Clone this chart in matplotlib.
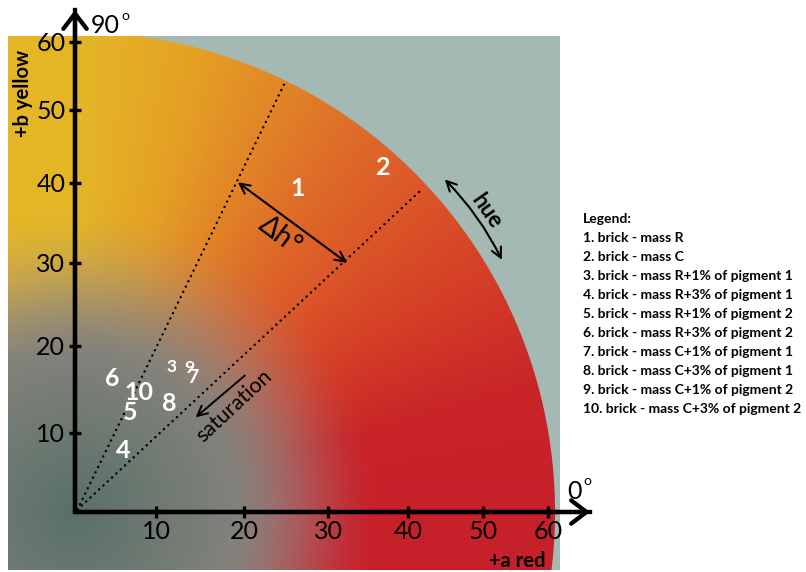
import numpy as np
import matplotlib
matplotlib.use("Agg")
import matplotlib.pyplot as plt

plt.rcParams["font.family"] = ["Lato", "DejaVu Sans"]

# samples in the a*b* plane
sample_ids = ["1", "2", "3", "4", "5", "6", "7", "8", "9", "10"]
sample_a = [26.4, 36.9, 11.8, 6.0, 6.8, 4.6, 14.2, 11.5, 13.8, 7.9]
sample_b = [39.5, 42.3, 17.7, 8.0, 12.5, 16.4, 16.6, 13.6, 17.6, 14.8]
sample_names = [
    "brick - mass R",
    "brick - mass C",
    "brick - mass R+1% of pigment 1",
    "brick - mass R+3% of pigment 1",
    "brick - mass R+1% of pigment 2",
    "brick - mass R+3% of pigment 2",
    "brick - mass C+1% of pigment 1",
    "brick - mass C+3% of pigment 1",
    "brick - mass C+1% of pigment 2",
    "brick - mass C+3% of pigment 2",
]
tick_values = [10, 20, 30, 40, 50, 60]

# dotted hue lines (outer ends) and the arrows between/along them
hue_line_a = [24.9, 41.9]
hue_line_b = [54.1, 39.25]
dh_a = [19.3, 32.4]
dh_b = [40.1, 30.0]
hue_arc_a = [44.9, 52.9]
hue_arc_b = [40.5, 30.4]
sat_a = [20.1, 14.5]
sat_b = [16.6, 11.8]

# styles / layout
label_sizes = [18, 18, 12.5, 18, 18, 18, 14, 18, 12.5, 18]
# the hand drawn axes are unevenly spaced: pixel offset of each tick from the origin
axis_x_px = [0, 81, 169, 253, 333, 408, 473]
axis_y_px = [0, 79, 166, 249, 329, 402, 470]
hue_deg = [0, 15, 30, 45, 55, 65, 75, 90]
hue_rgb = np.array([
    (198, 32, 42), (200, 36, 40), (212, 62, 38), (220, 90, 40),
    (222, 110, 40), (225, 135, 38), (228, 160, 36), (228, 182, 38),
]) / 255.0
bg_rgb = np.array((164, 184, 180)) / 255.0
gray0 = np.array((88, 112, 104)) / 255.0
gray1 = np.array((155, 140, 134)) / 255.0


def make_scale(ticks_px, slope=7.8):
    vals = np.array([0] + tick_values, float)
    px = np.array(ticks_px, float)

    def fwd(v):
        v = np.asarray(v, float)
        out = np.interp(v, vals, px)
        out = np.where(v < vals[0], px[0] + (v - vals[0]) * slope, out)
        out = np.where(v > vals[-1], px[-1] + (v - vals[-1]) * slope, out)
        return out

    def inv(p):
        p = np.asarray(p, float)
        out = np.interp(p, px, vals)
        out = np.where(p < px[0], vals[0] + (p - px[0]) / slope, out)
        out = np.where(p > px[-1], vals[-1] + (p - px[-1]) / slope, out)
        return out

    return fwd, inv


fx, ix = make_scale(axis_x_px)
fy, iy = make_scale(axis_y_px)

fig = plt.figure(figsize=(8.06, 5.72), dpi=100)
ax = fig.add_axes([0, 0, 1, 1])
ax.set_xscale("function", functions=(fx, ix))
ax.set_yscale("function", functions=(fy, iy))
ax.set_xlim(float(ix(-75)), float(ix(731)))
ax.set_ylim(float(iy(-60)), float(iy(512)))
ax.axis("off")

# colour field of the a*b* plane (radius ~61 units, drawn in plot space)
ue = np.arange(-67, 486)
ve = np.arange(-58, 477)
uc, vc = np.meshgrid(ue[:-1] + 0.5, ve[:-1] + 0.5)
r = np.hypot(uc, vc)
th = np.clip(np.degrees(np.arctan2(vc, np.maximum(uc, 0))), 0, 90)
hue = np.stack([np.interp(th, hue_deg, hue_rgb[:, k]) for k in range(3)], axis=-1)
g = np.clip(r / 260.0, 0, 1)[..., None]
gray = gray0 * (1 - g) + gray1 * g
t = np.clip((r - 150) / 160.0, 0, 1)
t = (t * t * (3 - 2 * t))[..., None]
col = gray * (1 - t) + hue * t
edge = np.clip(480.5 - r, 0, 1)[..., None]
col = col * edge + bg_rgb * (1 - edge)
ax.pcolormesh(ix(ue), iy(ve), col, shading="flat", antialiased=False,
              edgecolors="none", zorder=0)

# dotted hue lines
for a, b in zip(hue_line_a, hue_line_b):
    ax.plot([0.3, a], [0.3, b], color="black", lw=1.7,
            linestyle=(0, (0.1, 2.4)), dash_capstyle="round", zorder=2)

# axes with arrows
x_tip = float(ix(515))
y_tip = float(iy(502))
ax.plot([x_tip, 0, 0], [0, 0, y_tip], color="black", lw=3.1,
        solid_joinstyle="miter", zorder=3)
for tip in [(x_tip, 0), (0, y_tip)]:
    ax.annotate("", xy=tip, xytext=(0, 0),
                arrowprops=dict(arrowstyle="->,head_length=0.55,head_width=0.42",
                                lw=3.1, color="black", shrinkA=0, shrinkB=0,
                                mutation_scale=20), zorder=3)
ax.plot(tick_values, [0] * 6, ls="none", marker="|", ms=9, mew=2.4,
        color="black", zorder=3)
ax.plot([0] * 6, tick_values, ls="none", marker="_", ms=9, mew=2.4,
        color="black", zorder=3)
for v in tick_values:
    ax.annotate(str(v), xy=(v, 0), xytext=(0, -19.5), textcoords="offset points",
                ha="center", va="baseline", fontsize=18)
    ax.annotate(str(v), xy=(0, v), xytext=(-7, -6.3), textcoords="offset points",
                ha="right", va="baseline", fontsize=18)

ax.annotate("90", xy=(0, y_tip), xytext=(11.5, -16.6), textcoords="offset points",
            ha="left", va="baseline", fontsize=18)
ax.annotate("o", xy=(0, y_tip), xytext=(33.5, -7.2), textcoords="offset points",
            ha="left", va="baseline", fontsize=10)
ax.annotate("0", xy=(x_tip, 0), xytext=(-16.6, 9.4), textcoords="offset points",
            ha="left", va="baseline", fontsize=18)
ax.annotate("o", xy=(x_tip, 0), xytext=(-5, 19.4), textcoords="offset points",
            ha="left", va="baseline", fontsize=10)

fig.text(23 / 806, 1 - 93 / 572, "+b yellow", rotation=90, ha="center",
         va="center", fontsize=14.5, fontweight="bold")
fig.text(517 / 806, 1 - 567 / 572, "+a red", ha="center", va="baseline",
         fontsize=14.5, fontweight="bold")

# sample numbers
for sid, a, b, s in zip(sample_ids, sample_a, sample_b, label_sizes):
    ax.annotate(sid, xy=(a, b), xytext=(0, -0.36 * s), textcoords="offset points",
                ha="center", va="baseline", fontsize=s, fontweight="bold",
                color="white", zorder=4)

# delta h, hue and saturation arrows
ax.annotate("", xy=(dh_a[0], dh_b[0]), xytext=(dh_a[1], dh_b[1]),
            arrowprops=dict(arrowstyle="<->", lw=1.5, color="black",
                            shrinkA=0, shrinkB=0, mutation_scale=18))
ax.text(24.3, 33.4, "\u0394h\u00b0", rotation=-37, ha="center", va="center",
        fontsize=20, rotation_mode="anchor")
ax.annotate("", xy=(hue_arc_a[0], hue_arc_b[0]), xytext=(hue_arc_a[1], hue_arc_b[1]),
            arrowprops=dict(arrowstyle="<->", lw=1.5, color="black",
                            shrinkA=0, shrinkB=0, mutation_scale=18,
                            connectionstyle="arc3,rad=0.08"))
ax.text(50.5, 36.4, "hue", rotation=-55, ha="center", va="center",
        fontsize=16, fontweight="bold", rotation_mode="anchor")
ax.annotate("", xy=(sat_a[1], sat_b[1]), xytext=(sat_a[0], sat_b[0]),
            arrowprops=dict(arrowstyle="->", lw=1.4, color="black",
                            shrinkA=0, shrinkB=0, mutation_scale=18))
ax.text(18.9, 13.1, "saturation", rotation=43, ha="center", va="center",
        fontsize=15.5, rotation_mode="anchor")

# legend text
fig.text(583 / 806, 1 - 223 / 572, "Legend:", fontsize=10, fontweight="bold",
         va="baseline")
for i, name in enumerate(sample_names):
    fig.text(583 / 806, 1 - (242 + 19 * i) / 572, f"{i + 1}. {name}",
             fontsize=10, fontweight="bold", va="baseline")

fig.savefig("out.png", dpi=100)
